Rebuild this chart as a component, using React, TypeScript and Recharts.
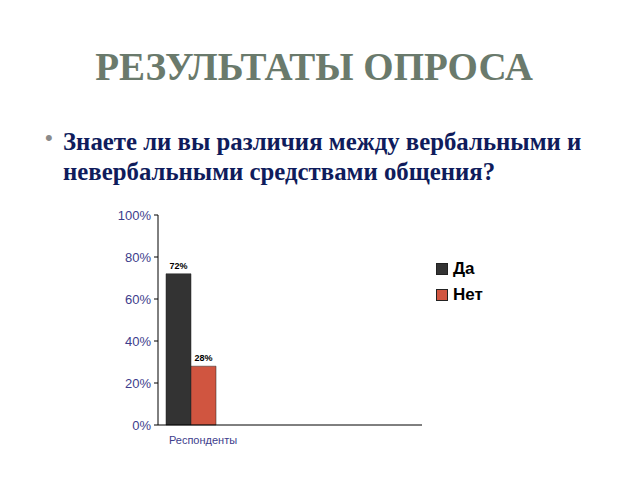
import { BarChart, Bar, XAxis, YAxis, LabelList } from "recharts";

const categories = ["Респонденты", "", "", ""];
const yesValues = [72, null, null, null];
const noValues = [28, null, null, null];
const yTicks = [0, 20, 40, 60, 80, 100];

const data = categories.map((name, i) => ({
  name,
  yes: yesValues[i],
  no: noValues[i],
}));

const axisColor = "#3d3d8c";

const legendItems = [
  { label: "Да", color: "#333333" },
  { label: "Нет", color: "#d05540" },
];

const App = () => {
  return (
    <div style={{ position: "absolute", left: 0, top: 0, width: 640, height: 480, background: "#fff", overflow: "hidden" }}>
      <div
        style={{
          position: "absolute",
          top: 44,
          left: 0,
          width: 628,
          textAlign: "center",
          fontFamily: "Liberation Serif",
          fontWeight: "bold",
          fontSize: 39,
          color: "#6a7a6c",
        }}
      >
        РЕЗУЛЬТАТЫ ОПРОСА
      </div>
      <div style={{ position: "absolute", top: 125, left: 45, fontFamily: "Liberation Sans", fontSize: 22, color: "#8a8a8a" }}>•</div>
      <div
        style={{
          position: "absolute",
          top: 127,
          left: 63,
          width: 570,
          fontFamily: "Liberation Serif",
          fontWeight: "bold",
          fontSize: 24.8,
          lineHeight: "30px",
          color: "#0f1c5c",
          whiteSpace: "nowrap",
        }}
      >
        Знаете ли вы различия между вербальными и
        <br />
        невербальными средствами общения?
      </div>
      <div style={{ position: "absolute", left: 0, top: 0 }}>
        <BarChart
          width={640}
          height={480}
          data={data}
          margin={{ top: 215, right: 218, bottom: 25, left: 108 }}
          barCategoryGap={8}
          barGap={0}
        >
          <XAxis
            dataKey="name"
            axisLine={{ stroke: "#000" }}
            tickLine={false}
            tick={{ fill: axisColor, fontSize: 11, fontFamily: "Liberation Sans", dx: 12, dy: 3 }}
            height={30}
            interval={0}
          />
          <YAxis
            domain={[0, 100]}
            ticks={yTicks}
            tickFormatter={(v) => `${v}%`}
            axisLine={{ stroke: "#000" }}
            tickLine={{ stroke: "#000" }}
            tickSize={4}
            width={50}
            tick={{ fill: axisColor, fontSize: 13, fontFamily: "Liberation Sans", dx: -1 }}
          />
          <Bar dataKey="yes" fill="#333333" stroke="#222" strokeWidth={0.5} isAnimationActive={false}>
            <LabelList
              dataKey="yes"
              position="top"
              formatter={(v: any) => (v == null ? "" : `${v}%`)}
              style={{ fill: "#000", fontSize: 9, fontWeight: "bold", fontFamily: "Liberation Sans" }}
            />
          </Bar>
          <Bar dataKey="no" fill="#d05540" stroke="#222" strokeWidth={0.5} isAnimationActive={false}>
            <LabelList
              dataKey="no"
              position="top"
              formatter={(v: any) => (v == null ? "" : `${v}%`)}
              style={{ fill: "#000", fontSize: 9, fontWeight: "bold", fontFamily: "Liberation Sans" }}
            />
          </Bar>
        </BarChart>
      </div>
      <div
        style={{
          position: "absolute",
          left: 436,
          top: 256,
          fontFamily: "Liberation Sans",
          fontWeight: "bold",
          fontSize: 17,
          color: "#000",
        }}
      >
        {legendItems.map((item) => (
          <div key={item.label} style={{ display: "flex", alignItems: "center", height: 26 }}>
            <span
              style={{
                display: "inline-block",
                width: 10,
                height: 10,
                background: item.color,
                border: "1px solid #222",
                marginRight: 5,
              }}
            />
            {item.label}
          </div>
        ))}
      </div>
    </div>
  );
};

export default App;
